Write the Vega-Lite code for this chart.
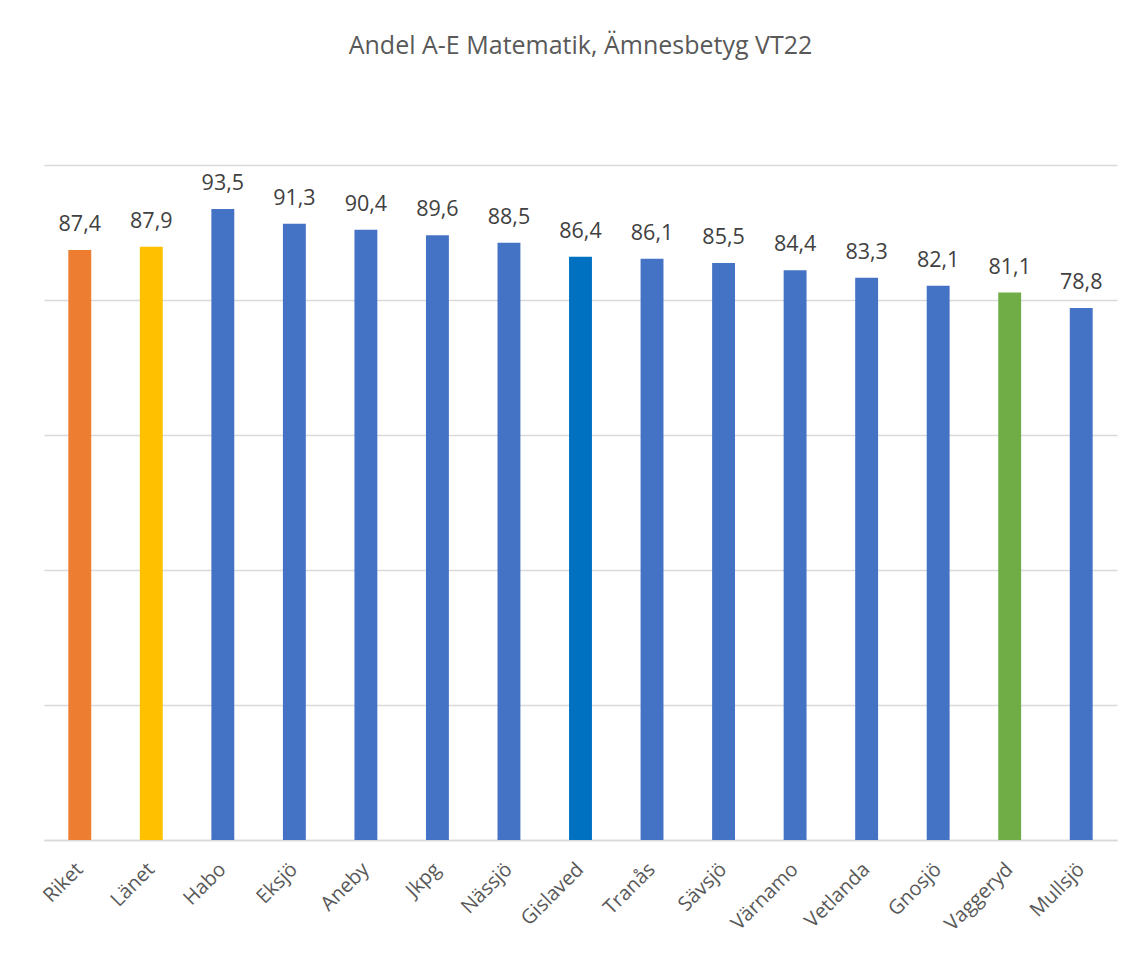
{
  "$schema": "https://vega.github.io/schema/vega-lite/v6.json",
  "autosize": {"type": "none"},
  "width": 1073,
  "height": 675,
  "padding": {"left": 44, "top": 165, "right": 12, "bottom": 114},
  "background": "white",
  "config": {
    "view": {"stroke": null},
    "font": "Open Sans",
    "locale": {"number": {"decimal": ",", "thousands": " ", "grouping": [3], "currency": ["", " kr"]}}
  },
  "title": {
    "text": "Andel A-E Matematik, Ämnesbetyg VT22",
    "fontSize": 25,
    "fontWeight": "normal",
    "color": "#595959",
    "font": "Open Sans",
    "anchor": "middle",
    "offset": 106
  },
  "data": {
    "values": [
      {"omrade": "Riket", "andel": 87.4},
      {"omrade": "Länet", "andel": 87.9},
      {"omrade": "Habo", "andel": 93.5},
      {"omrade": "Eksjö", "andel": 91.3},
      {"omrade": "Aneby", "andel": 90.4},
      {"omrade": "Jkpg", "andel": 89.6},
      {"omrade": "Nässjö", "andel": 88.5},
      {"omrade": "Gislaved", "andel": 86.4},
      {"omrade": "Tranås", "andel": 86.1},
      {"omrade": "Sävsjö", "andel": 85.5},
      {"omrade": "Värnamo", "andel": 84.4},
      {"omrade": "Vetlanda", "andel": 83.3},
      {"omrade": "Gnosjö", "andel": 82.1},
      {"omrade": "Vaggeryd", "andel": 81.1},
      {"omrade": "Mullsjö", "andel": 78.8}
    ]
  },
  "encoding": {
    "x": {
      "field": "omrade",
      "type": "nominal",
      "sort": null,
      "scale": {"paddingInner": 0.68, "paddingOuter": 0.34},
      "axis": {
        "title": null,
        "labelAngle": -45,
        "labelAlign": "right",
        "labelBaseline": "middle",
        "labelFontSize": 20,
        "labelColor": "#595959",
        "labelPadding": 26,
        "ticks": false,
        "domainColor": "#D9D9D9",
        "domainWidth": 1.5,
        "grid": false
      }
    },
    "y": {
      "field": "andel",
      "type": "quantitative",
      "scale": {"domain": [0, 100]},
      "axis": {
        "title": null,
        "labels": false,
        "ticks": false,
        "domain": false,
        "values": [0, 20, 40, 60, 80, 100],
        "gridColor": "#D9D9D9",
        "gridWidth": 1.5
      }
    }
  },
  "layer": [
    {
      "mark": {"type": "bar"},
      "encoding": {
        "color": {
          "field": "omrade",
          "type": "nominal",
          "legend": null,
          "scale": {
            "domain": ["Riket", "Länet", "Habo", "Eksjö", "Aneby", "Jkpg", "Nässjö", "Gislaved", "Tranås", "Sävsjö", "Värnamo", "Vetlanda", "Gnosjö", "Vaggeryd", "Mullsjö"],
            "range": ["#ED7D31", "#FFC000", "#4472C4", "#4472C4", "#4472C4", "#4472C4", "#4472C4", "#0070C0", "#4472C4", "#4472C4", "#4472C4", "#4472C4", "#4472C4", "#70AD47", "#4472C4"]
          }
        }
      }
    },
    {
      "mark": {"type": "text", "baseline": "alphabetic", "dy": -19, "fontSize": 21.5, "color": "#404040"},
      "encoding": {
        "text": {"field": "andel", "type": "quantitative", "format": ".1f"}
      }
    }
  ]
}
